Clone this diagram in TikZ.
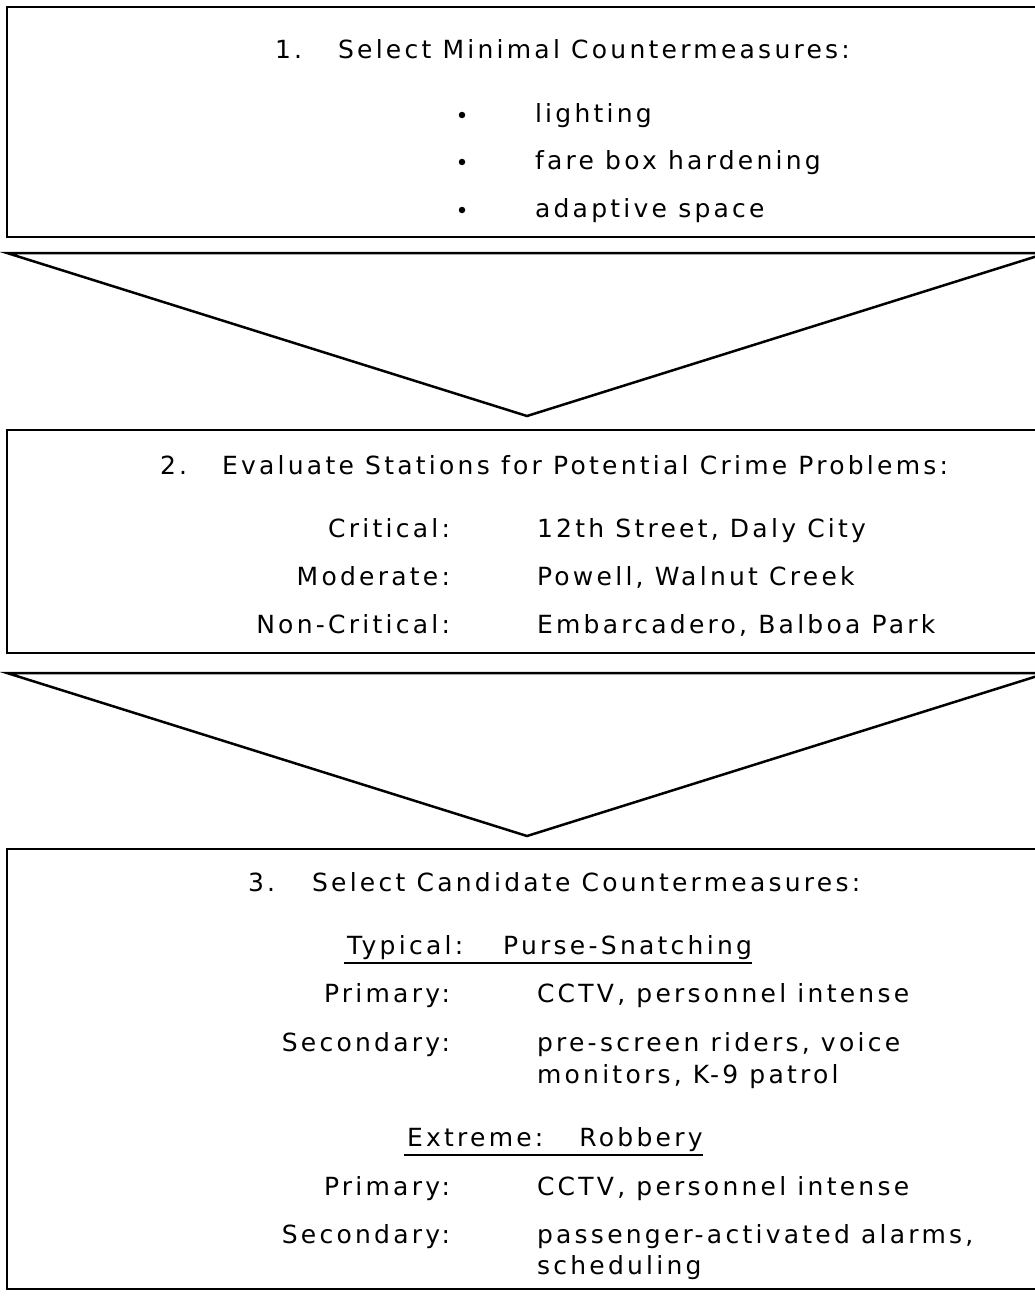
\documentclass[tikz,border=0pt]{standalone}
\usepackage{fontspec}
\setmainfont[LetterSpace=13]{DejaVu Sans}
\begin{document}
\begin{tikzpicture}[x=1pt,y=-1pt,
  every node/.style={inner sep=0pt, outer sep=0pt, font=\fontsize{25}{32}\selectfont},
  boxst/.style={draw, line width=2.8pt, rectangle, fill=none},
  lbl/.style={anchor=base east},
  val/.style={anchor=base west},
  hd/.style={anchor=base west},
  dotst/.style={circle, fill=black, minimum size=6.5pt},
  tri/.style={line width=2.5pt, line join=miter},
  ul/.style={line width=2.2pt}]
\useasboundingbox (0,0) rectangle (1035,1300);
\clip (0,0) rectangle (1035,1300);
\fill[white] (0,0) rectangle (1035,1300);
% boxes (open to the right edge)
\node[boxst, minimum width=1040pt, minimum height=230pt] (b1) at (527,122) {};
\node[boxst, minimum width=1040pt, minimum height=223pt] (b2) at (527,541.5) {};
\node[boxst, minimum width=1040pt, minimum height=440pt] (b3) at (527,1069) {};
% arrow triangles
\coordinate (t1l) at (7,253); \coordinate (t1r) at (1047,253); \coordinate (t1a) at (527,416);
\draw[tri] (t1l) -- (t1r) -- (t1a) -- cycle;
\coordinate (t2l) at (7,673); \coordinate (t2r) at (1047,673); \coordinate (t2a) at (527,836);
\draw[tri] (t2l) -- (t2r) -- (t2a) -- cycle;
% box 1
\node[hd] (n1) at (275,59) {1.};
\node[hd] (h1) at (338,59) {Select Minimal Countermeasures:};
\node[dotst] (d1) at (462,115) {};
\node[val] (i1) at (535,123) {lighting};
\node[dotst] (d2) at (462,162) {};
\node[val] (i2) at (535,170) {fare box hardening};
\node[dotst] (d3) at (462,210) {};
\node[val] (i3) at (535,218) {adaptive space};
% box 2
\node[hd] (n2) at (160,474) {2.};
\node[hd] (h2) at (222,474) {Evaluate Stations for Potential Crime Problems:};
\node[lbl] (l21) at (450,537) {Critical:};
\node[val] (v21) at (537,537) {12th Street, Daly City};
\node[lbl] (l22) at (450,585) {Moderate:};
\node[val] (v22) at (537,585) {Powell, Walnut Creek};
\node[lbl] (l23) at (450,633) {Non-Critical:};
\node[val] (v23) at (537,633) {Embarcadero, Balboa Park};
% box 3
\node[hd] (n3) at (248,891) {3.};
\node[hd] (h3) at (312,891) {Select Candidate Countermeasures:};
\node[hd] (typ) at (347,954) {Typical:\hspace{40pt}Purse-Snatching};
\draw[ul] ([xshift=-3pt,yshift=-9pt]typ.base west) -- ([xshift=0pt,yshift=-9pt]typ.base east);
\node[lbl] (l31) at (450,1002) {Primary:};
\node[val] (v31) at (537,1002) {CCTV, personnel intense};
\node[lbl] (l32) at (450,1051) {Secondary:};
\node[val] (v32) at (537,1051) {pre-screen riders, voice};
\node[val] (v32b) at (537,1083) {monitors, K-9 patrol};
\node[hd] (ext) at (407,1146) {Extreme:\hspace{36pt}Robbery};
\draw[ul] ([xshift=-3pt,yshift=-9pt]ext.base west) -- ([xshift=0pt,yshift=-9pt]ext.base east);
\node[lbl] (l33) at (450,1195) {Primary:};
\node[val] (v33) at (537,1195) {CCTV, personnel intense};
\node[lbl] (l34) at (450,1243) {Secondary:};
\node[val] (v34) at (537,1243) {passenger-activated alarms,};
\node[val] (v34b) at (537,1274) {scheduling};
\end{tikzpicture}
\end{document}
